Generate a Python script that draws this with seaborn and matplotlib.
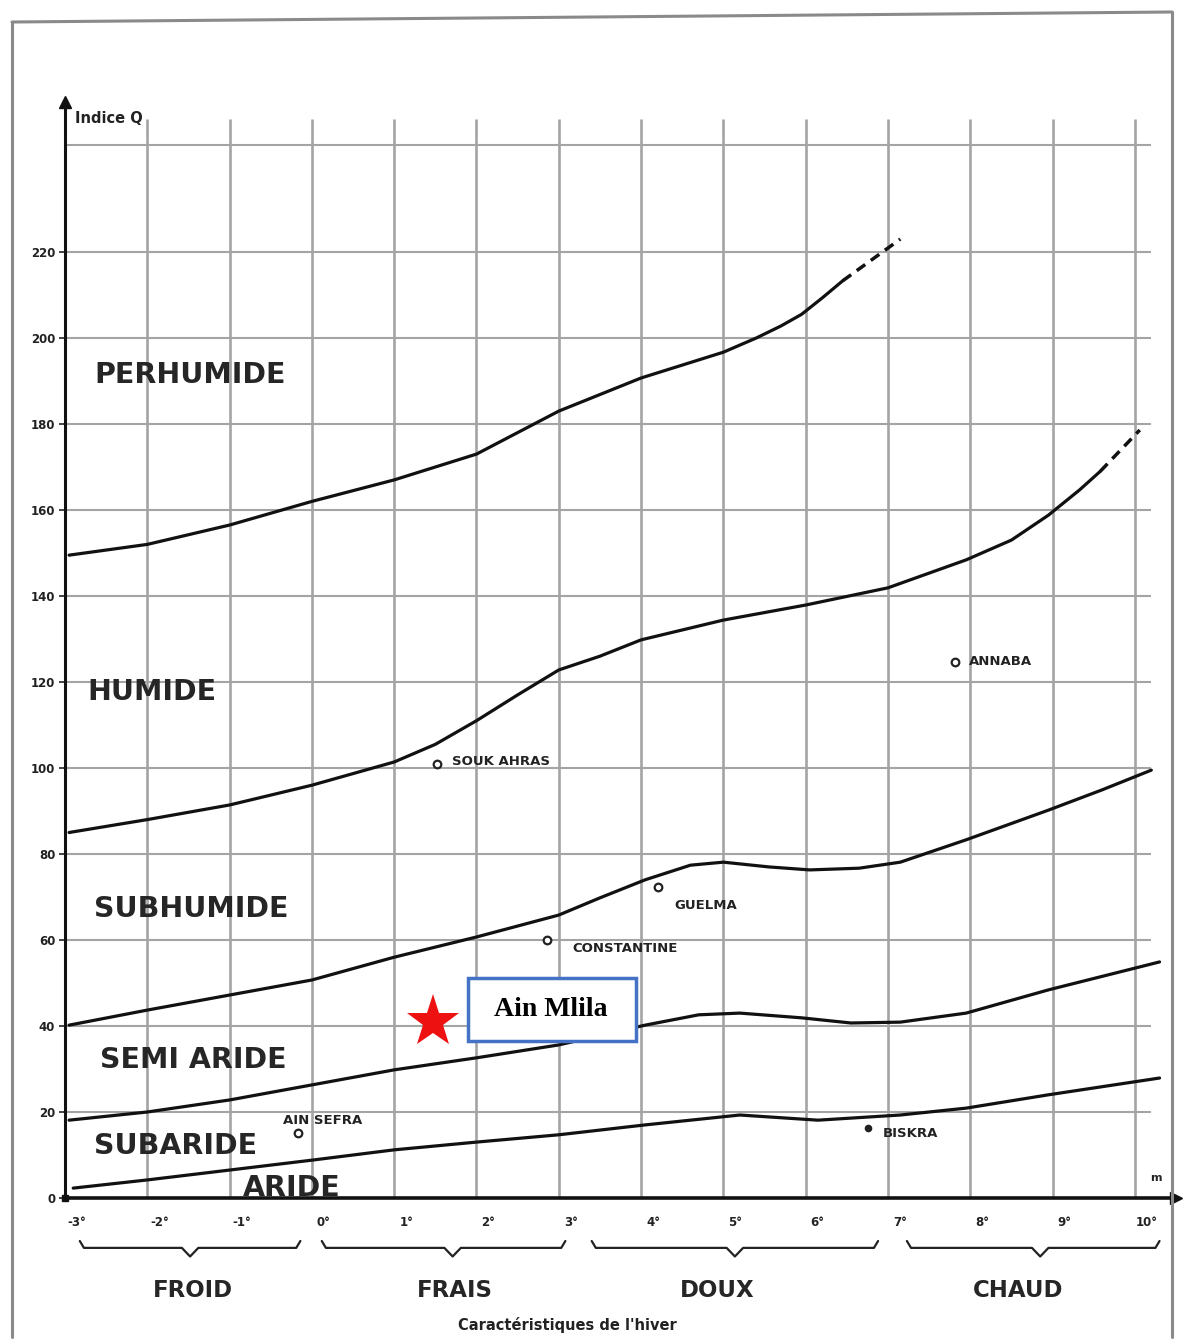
import matplotlib
matplotlib.use("Agg")
import matplotlib.pyplot as plt
from matplotlib.lines import Line2D
from matplotlib.patches import Rectangle
import matplotlib.transforms as mtransforms
import numpy as np
import pandas as pd
import seaborn as sns

# ---------------- data ----------------
# boundary curves (m in deg C, Q2)
c1_x = [-2.95, -2.0, -1.0, 0.0, 1.0, 2.0, 3.0, 4.0, 5.0, 5.4, 5.7, 5.95, 6.2, 6.45]
c1_q = [149.5, 152.0, 156.5, 162.0, 167.0, 173.0, 183.0, 190.7, 196.7, 200.0, 202.8, 205.5, 209.3, 213.3]
c1_dash_x = [6.45, 7.15]
c1_dash_q = [213.3, 223.0]

c2_x = [-2.95, -2.0, -1.0, 0.0, 1.0, 1.5, 2.0, 2.5, 3.0, 3.5, 4.0, 5.0, 6.0, 7.0, 7.95, 8.5, 8.95, 9.33, 9.58]
c2_q = [85.0, 88.0, 91.4, 96.0, 101.4, 105.5, 111.0, 117.0, 122.8, 126.0, 129.8, 134.4, 137.9, 141.9, 148.4, 153.0, 158.8, 164.7, 169.0]
c2_dash_x = [9.58, 10.06]
c2_dash_q = [169.0, 178.6]

c3_x = [-2.95, -2.0, -1.0, 0.0, 1.0, 2.0, 3.0, 3.5, 4.05, 4.6, 5.0, 5.55, 6.05, 6.65, 7.15, 7.95, 8.95, 9.6, 10.2]
c3_q = [40.2, 43.7, 47.2, 50.7, 56.0, 60.7, 65.8, 69.8, 74.0, 77.4, 78.1, 77.0, 76.3, 76.7, 78.1, 83.3, 90.2, 94.9, 99.5]

c4_x = [-2.95, -2.0, -1.0, 0.0, 1.0, 2.0, 3.0, 4.05, 4.7, 5.2, 5.95, 6.55, 7.15, 7.95, 8.95, 10.3]
c4_q = [18.1, 20.0, 22.8, 26.3, 29.8, 32.6, 35.6, 40.2, 42.6, 43.0, 41.9, 40.7, 40.9, 43.0, 48.4, 54.9]

c5_x = [-2.9, -2.0, -1.0, 0.0, 1.0, 2.0, 3.0, 4.05, 5.2, 6.15, 7.15, 7.95, 8.95, 10.3]
c5_q = [2.3, 4.2, 6.5, 8.8, 11.2, 13.0, 14.7, 17.0, 19.3, 18.1, 19.3, 20.9, 24.0, 27.9]

# stations
stations = ["SOUK AHRAS", "GUELMA", "CONSTANTINE", "AIN SEFRA", "BISKRA", "ANNABA"]
station_m = [1.52, 4.2, 2.86, -0.17, 6.76, 7.81]
station_q = [100.9, 72.3, 60.0, 15.1, 16.3, 124.7]

# Ain Mlila
site_name = "Ain Mlila"
site_m = 1.47
site_q = 40.9

# zones
zones = ["PERHUMIDE", "HUMIDE", "SUBHUMIDE", "SEMI ARIDE", "SUBARIDE", "ARIDE"]
zone_x = [-1.48, -1.94, -1.47, -1.44, -1.66, -0.25]
zone_q = [191.4, 117.7, 67.2, 32.1, 12.1, 2.3]

# winter classes
winter = ["FROID", "FRAIS", "DOUX", "CHAUD"]
winter_span = [(-2.82, -0.14), (0.12, 3.08), (3.40, 6.88), (7.23, 10.3)]
winter_notch = [-1.48, 1.71, 5.14, 8.85]
winter_label_x = [-1.44, 1.74, 4.92, 8.58]

xticks = list(range(-3, 11))
xtick_labels = [f"{v}°" for v in xticks]
yticks = list(range(0, 221, 20))
ytick_labels = [str(v) for v in yticks]

# ---------------- figure ----------------
sns.set_theme(style="white")
plt.rcParams["font.family"] = ["DejaVu Sans"]

W, H = 1191, 1339
fig = plt.figure(figsize=(W / 100, H / 100), dpi=100)
fig.patch.set_facecolor("white")

ax_left, ax_right = 65 / W, 1176 / W
ax_bottom, ax_top = 1 - 1198 / H, 1 - 101.5 / H
ax = fig.add_axes([ax_left, ax_bottom, ax_right - ax_left, ax_top - ax_bottom])
ax.set_facecolor("white")
ax.set_xlim(-3, 10.5)
ax.set_ylim(0, 255)

# grid
grid_col = "#a4a4a4"
ax.vlines(xticks[1:], 0, 251, colors=grid_col, lw=1.9, zorder=1)
ax.hlines(yticks[1:] + [245], -3, 10.2, colors=grid_col, lw=1.5, zorder=1)

# curves
for xs, qs in [(c1_x, c1_q), (c2_x, c2_q), (c3_x, c3_q), (c4_x, c4_q), (c5_x, c5_q)]:
    sns.lineplot(x=xs, y=qs, ax=ax, color="#111111", lw=2.3, sort=False, estimator=None, zorder=3)
for xs, qs in [(c1_dash_x, c1_dash_q), (c2_dash_x, c2_dash_q)]:
    sns.lineplot(x=xs, y=qs, ax=ax, color="#111111", lw=2.5, sort=False, estimator=None,
                 linestyle=(0, (3, 2)), zorder=3)

# stations
sdf = pd.DataFrame({"m": station_m, "q": station_q, "name": stations})
open_df = sdf[sdf["name"] != "BISKRA"]
fill_df = sdf[sdf["name"] == "BISKRA"]
sns.scatterplot(data=open_df, x="m", y="q", ax=ax, s=30, facecolor="white",
                edgecolor="#222222", linewidth=1.6, zorder=4)
sns.scatterplot(data=fill_df, x="m", y="q", ax=ax, s=20, color="#222222",
                edgecolor="#222222", linewidth=1.0, zorder=4)
label_off = {
    "SOUK AHRAS": (0.18, 0.5, "left"),
    "GUELMA": (0.2, -4.2, "left"),
    "CONSTANTINE": (0.3, -2.0, "left"),
    "AIN SEFRA": (0.3, 3.0, "center"),
    "BISKRA": (0.18, -1.3, "left"),
    "ANNABA": (0.18, 0.0, "left"),
}
for n, m, q in zip(stations, station_m, station_q):
    dx, dq, ha = label_off[n]
    ax.text(m + dx, q + dq, n, fontsize=9.5, fontweight="bold", color="#222222",
            ha=ha, va="center", zorder=5)

# zone labels
for z, x, q in zip(zones, zone_x, zone_q):
    ax.text(x, q, z, fontsize=20.5, fontweight="bold", color="#262626",
            ha="center", va="center", zorder=5)

# Ain Mlila
ax.plot([site_m], [site_q], marker="*", color="#ee1111", markersize=40,
        markeredgewidth=0, linestyle="none", zorder=6, clip_on=False)
box = Rectangle((468 / W, 1 - 1041 / H), 168 / W, 63 / H, transform=fig.transFigure,
                facecolor="white", edgecolor="#4472c4", lw=2.5, zorder=7)
fig.add_artist(box)
fig.text(551 / W, 1 - 1010 / H, site_name, fontsize=20, fontweight="bold",
         family="Liberation Serif", ha="center", va="center", color="black", zorder=8)

# axes styling
for s in ["top", "right"]:
    ax.spines[s].set_visible(False)
ax.spines["left"].set_color("#111111")
ax.spines["left"].set_linewidth(2.2)
ax.spines["bottom"].set_color("#111111")
ax.spines["bottom"].set_linewidth(2.6)
ax.plot([-3], [255], marker="^", color="#111111", markersize=9, clip_on=False, zorder=6)
ax.plot([10.5], [0], marker=">", color="#111111", markersize=9, clip_on=False, zorder=6)
ax.plot([-3], [0], marker="s", color="#111111", markersize=4, clip_on=False, zorder=6)

ax.set_yticks(yticks)
ax.set_yticklabels(ytick_labels)
ax.set_xticks(xticks)
ax.set_xticklabels(xtick_labels)
ax.tick_params(axis="y", length=4, width=1.2, direction="out", pad=3, labelsize=8.5,
               colors="#222222", left=True)
ax.tick_params(axis="x", length=0, pad=13, labelsize=8.5, colors="#222222", bottom=False)
offset = mtransforms.ScaledTranslation(0.12, 0, fig.dpi_scale_trans)
for lab in ax.get_xticklabels():
    lab.set_fontweight("bold")
    lab.set_transform(lab.get_transform() + offset)
for lab in ax.get_yticklabels():
    lab.set_fontweight("bold")
ax.set_xlabel("")
ax.set_ylabel("")

ax.text(-2.88, 251, "Indice Q", fontsize=10.5, fontweight="bold", color="#222222",
        ha="left", va="center")
ax.text(10.25, 3.5, "m", fontsize=8, fontweight="bold", color="#222222",
        ha="center", va="bottom")

# braces and winter classes
by, bn, be = -11.6, -13.6, -10.0
for (a, b), mid, lx, name in zip(winter_span, winter_notch, winter_label_x, winter):
    ax.plot([a, a + 0.05, mid - 0.1, mid, mid + 0.1, b - 0.05, b],
            [be, by, by, bn, by, by, be], color="#222222", lw=1.6, clip_on=False)
    ax.text(lx, -21.4, name, fontsize=16.5, fontweight="bold", color="#262626",
            ha="center", va="center", clip_on=False)
ax.text(3.1, -29.6, "Caractéristiques de l'hiver", fontsize=10.5, fontweight="bold",
        color="#222222", ha="center", va="center", clip_on=False)

# page border of the scanned document
bc = "#8a8a8a"
fig.add_artist(Line2D([12 / W, 12 / W], [1 - 22 / H, 1 - 1337 / H], color=bc, lw=2.2))
fig.add_artist(Line2D([12 / W, 1172 / W], [1 - 22 / H, 1 - 12 / H], color=bc, lw=2.2))
fig.add_artist(Line2D([1172 / W, 1172 / W], [1 - 12 / H, 1 - 1337 / H], color=bc, lw=2.2))

fig.savefig("out.png", dpi=100)
